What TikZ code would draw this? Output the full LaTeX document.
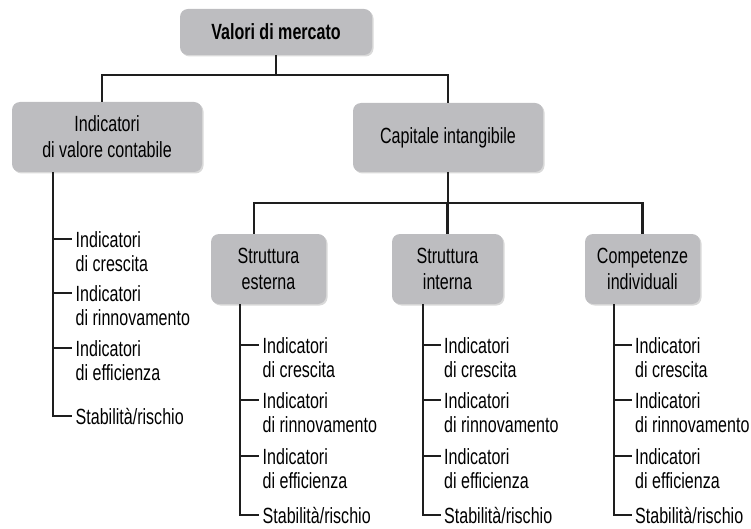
\documentclass[tikz,border=0pt]{standalone}
\usepackage{fontspec}
\setmainfont{Liberation Sans}[FakeStretch=0.73]
\usetikzlibrary{shadows}

\definecolor{boxgray}{RGB}{189,189,192}
\definecolor{linegray}{RGB}{30,30,30}

\tikzset{
  x=1pt, y=-1pt,
  box/.style={draw=none, fill=boxgray, rounded corners=8pt, align=center,
    inner sep=0pt, font=\fontsize{22}{26}\selectfont, text=black,
    drop shadow={opacity=0.3, shadow xshift=1.5pt, shadow yshift=-1.5pt}},
  link/.style={draw=linegray, line width=2.1pt},
  listitem/.style={anchor=north west, align=left, inner sep=0pt,
    font=\fontsize{22}{24}\selectfont, text=black},
}

% one indicator list hanging below a box:
% #1 prefix, #2 parent box, #3 spine x, #4 text x, #5-#8 tick heights
\newcommand{\drawindicators}[8]{%
  \coordinate (#1-x) at (#3,0);
  \node[listitem] (#1-a) at (#4,{#5-7.5}) {Indicatori\\di crescita};
  \node[listitem] (#1-b) at (#4,{#6-7.5}) {Indicatori\\di rinnovamento};
  \node[listitem] (#1-c) at (#4,{#7-7.5}) {Indicatori\\di efficienza};
  \node[listitem] (#1-d) at (#4,{#8-7.5}) {Stabilità/rischio};
  \coordinate (#1-ta) at ([xshift=-3.5pt,yshift=-7.5pt]#1-a.north west);
  \coordinate (#1-tb) at ([xshift=-3.5pt,yshift=-7.5pt]#1-b.north west);
  \coordinate (#1-tc) at ([xshift=-3.5pt,yshift=-7.5pt]#1-c.north west);
  \coordinate (#1-td) at ([xshift=-3.5pt,yshift=-7.5pt]#1-d.north west);
  \draw[link] (#2.south -| #1-x) |- (#1-td);
  \draw[link] (#1-ta -| #1-x) -- (#1-ta);
  \draw[link] (#1-tb -| #1-x) -- (#1-tb);
  \draw[link] (#1-tc -| #1-x) -- (#1-tc);
}

\begin{document}
\begin{tikzpicture}
  \useasboundingbox (0,0) rectangle (751,529);

  % boxes
  \node[box, minimum width=192pt, minimum height=46pt,
        font=\fontsize{22}{26}\selectfont\bfseries] (market) at (276,32) {Valori di mercato};
  \node[box, minimum width=190pt, minimum height=70pt] (book) at (107,137)
        {Indicatori\\di valore contabile};
  \node[box, minimum width=190pt, minimum height=69pt] (intang) at (448,137.5)
        {Capitale intangibile};
  \node[box, minimum width=115pt, minimum height=70pt] (ext) at (268.5,269)
        {Struttura\\esterna};
  \node[box, minimum width=111pt, minimum height=70pt] (int) at (447.5,269)
        {Struttura\\interna};
  \node[box, minimum width=115pt, minimum height=70pt] (comp) at (642.5,269)
        {Competenze\\individuali};

  % tree connectors
  \coordinate (busA) at (0,75);
  \coordinate (busB) at (0,203);
  \draw[link, line width=2.8pt] (market.south) -- (market.south |- busA);
  \draw[link] ([xshift=-5pt]book.north) |- (intang.north |- busA) -- (intang.north);
  \draw[link] (intang.south) -- (intang.south |- busB);
  \draw[link] ([xshift=-14.5pt]ext.north) |- (comp.north |- busB) -- (comp.north);
  \draw[link] (int.north |- busB) -- (int.north);

  % indicator lists
  \drawindicators{lb}{book}{53}{75.5}{239}{293}{348}{416}
  \drawindicators{le}{ext}{240}{262.5}{345}{400}{456}{515}
  \drawindicators{li}{int}{423}{444}{345}{400}{456}{515}
  \drawindicators{lc}{comp}{614}{635}{345}{400}{456}{515}
\end{tikzpicture}
\end{document}
